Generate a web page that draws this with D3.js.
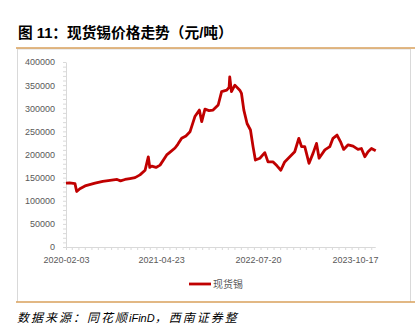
<!DOCTYPE html>
<html><head><meta charset="utf-8">
<script src="https://cdn.jsdelivr.net/npm/d3@7"></script>
<style>body{margin:0;background:#fff}svg{display:block}</style>
</head><body>
<script>
const title = "图 11：现货锡价格走势（元/吨）";
const sourceA = "数据来源：同花顺";
const sourceB = "iFinD";
const sourceC = "，西南证券整";
const seriesName = "现货锡";
const dates = ["2020-02-03","2020-02-20","2020-03-16","2020-03-24","2020-04-08","2020-05-02","2020-06-18","2020-07-24","2020-08-27","2020-09-29","2020-10-15","2020-11-05","2020-11-28","2020-12-22","2021-01-14","2021-02-07","2021-02-22","2021-03-01","2021-03-10","2021-03-30","2021-04-18","2021-05-19","2021-06-04","2021-06-27","2021-07-10","2021-07-28","2021-08-17","2021-09-05","2021-09-28","2021-10-19","2021-10-30","2021-11-14","2021-12-03","2021-12-22","2022-01-15","2022-01-31","2022-02-24","2022-03-07","2022-03-10","2022-03-18","2022-04-03","2022-04-26","2022-05-04","2022-05-15","2022-05-30","2022-06-15","2022-06-27","2022-07-08","2022-07-29","2022-08-21","2022-09-05","2022-09-29","2022-10-16","2022-11-04","2022-11-22","2022-12-16","2023-01-08","2023-01-27","2023-02-09","2023-02-24","2023-03-16","2023-04-04","2023-04-20","2023-05-02","2023-05-29","2023-06-21","2023-07-06","2023-07-25","2023-08-10","2023-08-25","2023-09-15","2023-10-08","2023-10-31","2023-11-16","2023-12-02","2023-12-17","2024-01-02","2024-01-22"];
const values = [138000,138500,137000,120000,126000,132000,138000,142000,144000,146000,143000,146000,148000,150000,156000,166000,195000,172000,175000,172000,177000,199000,205000,214000,222000,235000,240000,249000,282000,296000,271000,298000,295000,296000,307000,336000,339000,345000,368000,336000,350000,339000,332000,296000,267000,253000,217000,188000,192000,204000,184000,184000,176000,166000,184000,195000,206000,235000,217000,217000,181000,203000,224000,192000,210000,217000,235000,242000,228000,211000,221000,218000,211000,213000,195000,206000,213000,208000];
const yTicks = [0,50000,100000,150000,200000,250000,300000,350000,400000];
const xTickLabels = ["2020-02-03","2021-04-23","2022-07-20","2023-10-17"];

const W=418,H=331;
const svg=d3.select("body").append("svg").attr("width",W).attr("height",H);
const parse=d3.timeParse("%Y-%m-%d");
const data=dates.map((d,i)=>({d:parse(d),v:values[i]}));

svg.append("text").attr("x",18).attr("y",38).text(title)
  .attr("font-family","'Liberation Sans','Noto Sans CJK SC',sans-serif").attr("font-weight","bold")
  .attr("font-size",14.7).attr("fill","#000");

svg.append("line").attr("x1",17).attr("x2",410).attr("y1",49).attr("y2",49).attr("stroke","#d9d9d9");
svg.append("line").attr("x1",17.5).attr("x2",17.5).attr("y1",49).attr("y2",302).attr("stroke","#d9d9d9");
svg.append("line").attr("x1",410.5).attr("x2",410.5).attr("y1",49).attr("y2",302).attr("stroke","#d9d9d9");
svg.append("line").attr("x1",16).attr("x2",415).attr("y1",48).attr("y2",48).attr("stroke","#d9a05b").attr("stroke-width",1.5);
svg.append("line").attr("x1",16).attr("x2",415).attr("y1",302).attr("y2",302).attr("stroke","#d9a05b").attr("stroke-width",1.5);

const x=d3.scaleTime().domain([parse("2020-02-03"),parse("2023-10-17")]).range([66,355]);
const y=d3.scaleLinear().domain([0,400000]).range([247,62]);

const yMinor=svg.append("g").attr("transform","translate(66,0)")
  .call(d3.axisLeft(y).tickValues(d3.range(0,400001,10000)).tickSize(3).tickFormat(""));
yMinor.select(".domain").remove();
yMinor.selectAll("line").attr("stroke","#d9d9d9");
const yAx=svg.append("g").attr("transform","translate(66,0)")
  .call(d3.axisLeft(y).tickValues(yTicks).tickSize(0).tickPadding(11).tickFormat(d3.format("d")));
yAx.select(".domain").attr("stroke","#d9d9d9");
yAx.selectAll("text").attr("font-family","'Liberation Sans',Arial,sans-serif").attr("font-size",9).attr("fill","#595959");

const xEnd=x(parse("2024-01-22"));
const xMinor=svg.append("g").attr("transform","translate(0,247)")
  .call(d3.axisBottom(x).tickValues(d3.timeMonth.every(1).range(parse("2020-02-03"),parse("2024-01-23")).concat([parse("2020-02-03")])).tickSize(3).tickFormat(""));
xMinor.select(".domain").remove();
xMinor.selectAll("line").attr("stroke","#d9d9d9");
svg.append("line").attr("x1",66).attr("x2",xEnd).attr("y1",247.5).attr("y2",247.5).attr("stroke","#d9d9d9");
const xAx=svg.append("g").attr("transform","translate(0,247)")
  .call(d3.axisBottom(x).tickValues(xTickLabels.map(parse)).tickSize(0).tickPadding(10).tickFormat(d3.timeFormat("%Y-%m-%d")));
xAx.select(".domain").remove();
xAx.selectAll("text").attr("font-family","'Liberation Sans',Arial,sans-serif").attr("font-size",9).attr("fill","#595959");

svg.append("path").datum(data)
  .attr("d",d3.line().x(d=>x(d.d)).y(d=>y(d.v)))
  .attr("fill","none").attr("stroke","#c00000").attr("stroke-width",2.8).attr("stroke-linejoin","round");

svg.append("line").attr("x1",189).attr("x2",211).attr("y1",284).attr("y2",284).attr("stroke","#c00000").attr("stroke-width",2.8);
svg.append("text").attr("x",213).attr("y",288).text(seriesName)
  .attr("font-family","'Noto Sans CJK SC',sans-serif").attr("font-size",10).attr("fill","#595959");

const src=svg.append("text").attr("x",17).attr("y",322)
  .attr("font-family","'Noto Sans CJK SC',sans-serif").attr("font-style","italic")
  .attr("font-size",12).attr("fill","#000");
src.append("tspan").text(sourceA).attr("letter-spacing",2);
src.append("tspan").text(sourceB).attr("font-family","'Liberation Sans',Arial,sans-serif").attr("font-size",11);
src.append("tspan").text(sourceC).attr("letter-spacing",2);
</script>
</body></html>
